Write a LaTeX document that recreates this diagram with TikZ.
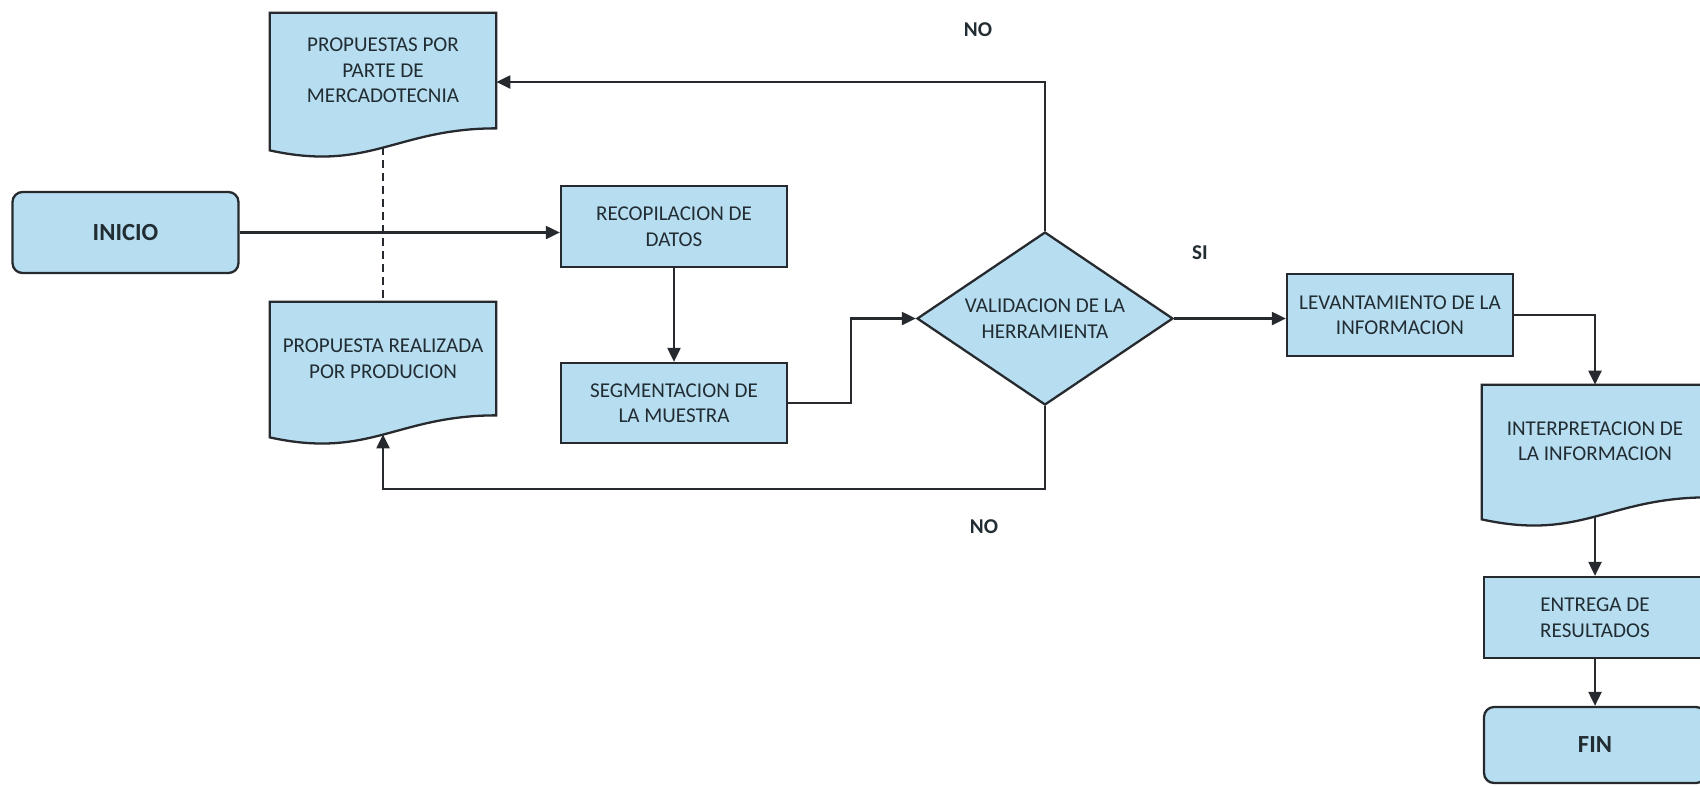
\documentclass[tikz,border=0pt]{standalone}
\usepackage{fontspec}
\setmainfont{Carlito}
\usetikzlibrary{arrows.meta,shapes.geometric,backgrounds}
\definecolor{celeste}{HTML}{B7DDF0}
\definecolor{ink}{HTML}{262A2E}
\definecolor{texto}{HTML}{222D33}

% contorno de documento (borde inferior ondulado)
\newcommand{\docoutline}[1]{%
  \filldraw[docline] (#1.north west) -- (#1.north east) -- (#1.south east)
    .. controls +(-2,0) and +(2,-0.44) .. ([yshift=-0.44cm]#1.south west) -- cycle;}

\begin{document}
\begin{tikzpicture}[
  font=\fontsize{12}{14.5}\selectfont, text=texto,
  proc/.style={draw=ink,line width=1.3pt,fill=celeste,align=center,inner sep=2pt,minimum width=4.52cm,minimum height=1.62cm},
  term/.style={proc,rounded corners=0.2cm,font=\fontsize{14}{16}\selectfont\bfseries},
  doc/.style={align=center,inner sep=2pt,minimum width=4.52cm,minimum height=2.26cm},
  docline/.style={draw=ink,line width=1.3pt,fill=celeste},
  dec/.style={diamond,draw=ink,line width=1.3pt,fill=celeste,align=center,inner sep=0pt,aspect=1.5,minimum width=5.12cm,minimum height=3.46cm},
  resp/.style={font=\fontsize{12}{14}\selectfont\bfseries},
  fl/.style={-{Triangle[length=2.8mm,width=2.6mm]},draw=ink,line width=1.2pt},
  fld/.style={draw=ink,line width=1.2pt,dash pattern=on 1.6mm off 1mm},
]
\useasboundingbox (0,0) rectangle (34,-15.72);
\node[term] (inicio) at (2.51,-4.65) {INICIO};
\node[doc,minimum height=2.30cm] (prop) at (7.66,-1.41) {PROPUESTAS POR\\PARTE DE\\MERCADOTECNIA};
\node[doc] (real) at (7.66,-7.17) {PROPUESTA REALIZADA\\POR PRODUCION};
\node[proc] (recop) at (13.48,-4.53) {RECOPILACION DE\\DATOS};
\node[proc,minimum height=1.60cm] (seg) at (13.48,-8.06) {SEGMENTACION DE\\LA MUESTRA};
\node[dec] (valid) at (20.90,-6.37) {VALIDACION DE LA\\HERRAMIENTA};
\node[proc,minimum height=1.64cm] (lev) at (28.00,-6.30) {LEVANTAMIENTO DE LA\\INFORMACION};
\node[doc,minimum height=2.24cm] (interp) at (31.90,-8.82) {INTERPRETACION DE\\LA INFORMACION};
\node[proc,minimum width=4.44cm] (entrega) at (31.90,-12.35) {ENTREGA DE\\RESULTADOS};
\node[term,minimum width=4.44cm,minimum height=1.52cm] (fin) at (31.90,-14.90) {FIN};
\begin{scope}[on background layer]
\fill[white] (0,0) rectangle (34,-15.72);
\docoutline{prop}
\docoutline{real}
\docoutline{interp}
\end{scope}
\node[resp] (no1) at (19.56,-0.60) {NO};
\node[resp] (si) at (24.00,-5.06) {SI};
\node[resp] (no2) at (19.68,-10.54) {NO};
\coordinate (ntop) at (20.90,-1.64);
\coordinate (nbot) at (20.90,-9.78);
\draw[fl] (inicio.east) -- (inicio.east -| recop.west);
\draw[fl] (recop) -- (seg);
\draw[fl] (seg.east) -- ++(1.26,0) |- (valid.west);
\draw[fl] (valid.east) -- (valid.east -| lev.west);
\draw[fl] (lev.east) -| (interp.north);
\draw[fl] ([yshift=-0.40cm]interp.south) -- (entrega);
\draw[fl] (entrega) -- (fin);
\draw[fl] (valid.north) -- (ntop) -- (ntop -| prop.east);
\draw[fl] (valid.south) -- (nbot) -| ([yshift=-0.38cm]real.south);
\draw[fld] ([yshift=-0.38cm]prop.south) -- (real.north);
\end{tikzpicture}
\end{document}
